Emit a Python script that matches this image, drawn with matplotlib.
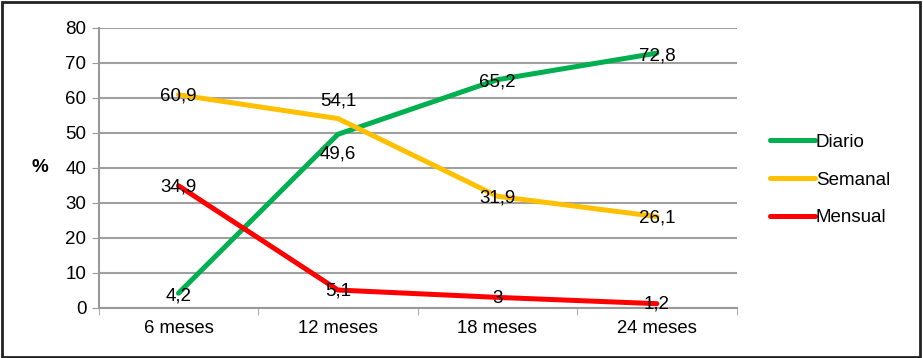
import matplotlib.pyplot as plt
from matplotlib.patches import Rectangle

plt.rcParams['font.family'] = ['Liberation Sans', 'DejaVu Sans']

categorias = ["6 meses", "12 meses", "18 meses", "24 meses"]
diario = [4.2, 49.6, 65.2, 72.8]
semanal = [60.9, 54.1, 31.9, 26.1]
mensual = [34.9, 5.1, 3.0, 1.2]
etiquetas_diario = ["4,2", "49,6", "65,2", "72,8"]
etiquetas_semanal = ["60,9", "54,1", "31,9", "26,1"]
etiquetas_mensual = ["34,9", "5,1", "3", "1,2"]

fig = plt.figure(figsize=(9.23, 3.58), dpi=100)
ax = fig.add_axes([0.107, 0.14, 0.691, 0.782])

x = list(range(len(categorias)))
ax.plot(x, diario, color="#00B050", lw=3.6, label="Diario", solid_capstyle="round", zorder=3)
ax.plot(x, semanal, color="#FFC000", lw=3.6, label="Semanal", solid_capstyle="round", zorder=3)
ax.plot(x, mensual, color="#FF0000", lw=3.6, label="Mensual", solid_capstyle="round", zorder=3)

# etiquetas de datos (desplazamiento en puntos)
off_d = [(0, -2), (0, -14), (0, -2), (0, -2)]
off_s = [(0, -1), (0, 13), (0, -1), (0, -1)]
off_m = [(0, -1), (0, -1), (0, -1), (0, 0)]
for xs, ys, labs, offs in [(x, diario, etiquetas_diario, off_d),
                           (x, semanal, etiquetas_semanal, off_s),
                           (x, mensual, etiquetas_mensual, off_m)]:
    for xi, yi, lab, o in zip(xs, ys, labs, offs):
        ax.annotate(lab, (xi, yi), textcoords="offset points", xytext=o,
                    ha="center", va="center", fontsize=13.5, zorder=4)

ax.set_xlim(-0.5, 3.5)
ax.set_ylim(0, 80)
ax.set_yticks(range(0, 81, 10))
ax.set_xticks(x)
ax.set_xticklabels(categorias, fontsize=13.3)
ax.set_xticks([-0.5, 0.5, 1.5, 2.5, 3.5], minor=True)
ax.tick_params(axis="x", which="major", length=0, pad=9)
ax.tick_params(axis="x", which="minor", length=5, color="#999999")
ax.tick_params(axis="y", length=5, color="#999999", labelsize=13.5, pad=4)
ax.yaxis.grid(True, color="#A0A0A0", lw=1.5)
ax.set_axisbelow(True)
for s in ["top", "right"]:
    ax.spines[s].set_visible(False)
for s in ["left", "bottom"]:
    ax.spines[s].set_color("#999999")
    ax.spines[s].set_linewidth(1.5)

ax.set_ylabel("%", rotation=0, fontsize=13.5, fontweight="bold", va="center")
ax.yaxis.set_label_coords(-0.092, 0.5)

ax.legend(loc="center left", bbox_to_anchor=(1.026, 0.457), frameon=False,
          fontsize=13.5, handlelength=2.4, labelspacing=1.1, handletextpad=0.05)

fig.patches.append(Rectangle((0.002, 0.004), 0.995, 0.99, transform=fig.transFigure,
                             fill=False, edgecolor="#222222", lw=2))

fig.savefig("out.png", dpi=100)
